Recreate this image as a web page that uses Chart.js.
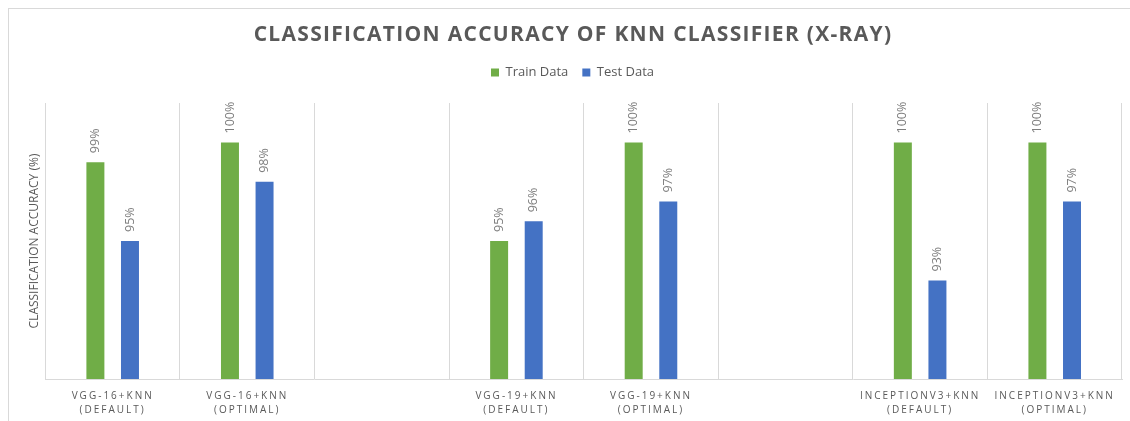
<!DOCTYPE html>
<html>
<head>
<meta charset="UTF-8">
<title>Classification accuracy of KNN classifier (X-ray)</title>
<script src="https://cdn.jsdelivr.net/npm/chart.js"></script>
<style>
  * {padding: 0; margin: 0;}
  body {background: #fff;}
  #wrap {position: relative; width: 1130px; height: 421px;}
  #frame {position: absolute; left: 8px; top: 8px; right: 0; bottom: 0; border-left: 1px solid #d9d9d9; border-top: 1px solid #d9d9d9;}
  canvas {position: absolute; left: 0; top: 0;}
</style>
<script>
  // categories (blank ones are the empty gaps between model groups)
  const categories = [
    ['VGG-16+KNN', '(DEFAULT)'],
    ['VGG-16+KNN', '(OPTIMAL)'],
    '',
    ['VGG-19+KNN', '(DEFAULT)'],
    ['VGG-19+KNN', '(OPTIMAL)'],
    '',
    ['INCEPTIONV3+KNN', '(DEFAULT)'],
    ['INCEPTIONV3+KNN', '(OPTIMAL)']
  ];
  const trainData = [99, 100, null, 95, 100, null, 100, 100];
  const testData  = [95, 98, null, 96, 97, null, 93, 97];

  const chartTitle = 'CLASSIFICATION ACCURACY OF KNN CLASSIFIER (X-RAY)';
  const yTitle = 'CLASSIFICATION ACCURACY (%)';
</script>
</head>
<body>
<div id="wrap">
  <div id="frame"></div>
  <canvas id="myChart" width="1130" height="421"></canvas>
</div>
<script>
  const GRAY = '#595959';

  // legend needs some room below it before the plot starts
  const legendGap = {
    id: 'legendGap',
    beforeInit(chart) {
      const fit = chart.legend.fit;
      chart.legend.fit = function () {
        fit.bind(chart.legend)();
        this.height += 14;
      };
    }
  };

  // value labels, rotated, above each bar; then letter spacing for the x labels
  const barLabels = {
    id: 'barLabels',
    afterDatasetsDraw(chart) {
      const ctx = chart.ctx;
      ctx.save();
      ctx.font = '12.5px "Open Sans"';
      ctx.fillStyle = '#7f7f7f';
      ctx.textAlign = 'left';
      ctx.textBaseline = 'middle';
      chart.data.datasets.forEach((ds, i) => {
        chart.getDatasetMeta(i).data.forEach((bar, j) => {
          if (ds.data[j] == null) return;
          ctx.save();
          ctx.translate(bar.x, bar.y - 9);
          ctx.rotate(-Math.PI / 2);
          ctx.fillText(ds.data[j] + '%', 0, 0);
          ctx.restore();
        });
      });
      ctx.restore();
      ctx.letterSpacing = '2px'; // x tick labels are drawn after this (ticks.z = 1)
    },
    afterDraw(chart) {
      const ctx = chart.ctx;
      ctx.letterSpacing = '1.3px';
      ctx.save();
      ctx.font = 'bold 21px "Open Sans"';
      ctx.fillStyle = GRAY;
      ctx.textAlign = 'center';
      ctx.textBaseline = 'middle';
      ctx.fillText(chartTitle, 573, 35);
      ctx.restore();
      ctx.letterSpacing = '0px';
    }
  };

  const ctx = document.getElementById('myChart');
  new Chart(ctx, {
    type: 'bar',
    data: {
      labels: categories,
      datasets: [
        {label: 'Train Data', data: trainData, backgroundColor: '#70ad47'},
        {label: 'Test Data', data: testData, backgroundColor: '#4472c4'}
      ]
    },
    options: {
      responsive: false,
      animation: false,
      categoryPercentage: 0.514,
      barPercentage: 0.52,
      layout: {padding: {top: 52, left: 23, right: 8, bottom: 0}},
      plugins: {
        title: {display: false},
        tooltip: {enabled: false},
        legend: {
          position: 'top',
          labels: {
            boxWidth: 8, boxHeight: 8, padding: 14,
            color: GRAY,
            font: {family: 'Open Sans', size: 13}
          }
        }
      },
      scales: {
        x: {
          grid: {color: '#d9d9d9', drawTicks: false, offset: true},
          border: {color: '#d9d9d9'},
          ticks: {
            z: 1,
            color: GRAY,
            padding: 10,
            autoSkip: false,
            maxRotation: 0,
            font: {family: 'Open Sans', size: 10, lineHeight: 1.4}
          },
          afterFit(scale) { scale.height -= 6; }
        },
        y: {
          min: 88,
          max: 102,
          grid: {display: false, drawTicks: false},
          border: {display: false},
          ticks: {display: false},
          title: {
            display: true,
            text: yTitle,
            color: GRAY,
            font: {family: 'Open Sans', size: 12}
          }
        }
      }
    },
    plugins: [legendGap, barLabels]
  });
</script>
</body>
</html>
